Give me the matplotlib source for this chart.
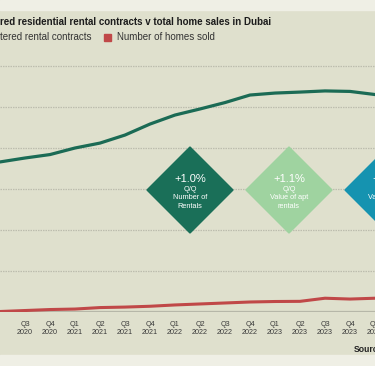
import matplotlib
matplotlib.use('Agg')
import matplotlib.pyplot as plt
from matplotlib.patches import Polygon, Rectangle

plt.rcParams['font.family'] = ['Liberation Sans', 'DejaVu Sans']

# quarters shown (first one sits just off the left edge of the crop, unlabelled)
quarters = ['', 'Q3\n2020', 'Q4\n2020', 'Q1\n2021', 'Q2\n2021', 'Q3\n2021',
            'Q4\n2021', 'Q1\n2022', 'Q2\n2022', 'Q3\n2022', 'Q4\n2022', 'Q1\n2023',
            'Q2\n2023', 'Q3\n2023', 'Q4\n2023', 'Q1\n2024']
rental_contracts = [91500, 93900, 96000, 100000, 103000, 107900, 114600, 120100,
                    123800, 127700, 132300, 133500, 134100, 134800, 134500, 132600]
homes_sold = [300, 900, 1500, 1800, 2700, 3000, 3500, 4300,
              4900, 5500, 6100, 6400, 6500, 8400, 7900, 8400]
grid_values = [25000, 50000, 75000, 100000, 125000, 150000]

# callout diamonds: headline, sub label lines
callouts = [
    ('+1.0%', ['Q/Q', 'Number of', 'Rentals']),
    ('+1.1%', ['Q/Q', 'Value of apt', 'rentals']),
    ('+0.8%', ['Q/Q', 'Value of villa', 'rentals']),
]
callout_colors = ['#1a6f58', '#9fd3a0', '#1593b0']

green = '#1b6b55'
red = '#c04848'
panel = '#dfe0cd'
band = '#efefe5'

W, H = 375, 366
fig = plt.figure(figsize=(W / 100, H / 100), dpi=100)
fig.patch.set_facecolor(panel)
fig.patches.append(Rectangle((0, (H - 10) / H), 1, 10 / H, transform=fig.transFigure,
                             color=band, zorder=0))
fig.patches.append(Rectangle((0, 0), 1, 11 / H, transform=fig.transFigure,
                             color=band, zorder=0))

# main chart
ymax = 155000
ax = fig.add_axes([0, (H - 312) / H, 1, (ymax / 25000 * 41) / H])
ax.set_facecolor('none')
x = list(range(len(quarters)))
ax.plot(x, rental_contracts, color=green, lw=2.3, solid_capstyle='round', zorder=3)
ax.plot(x, homes_sold, color=red, lw=2.2, solid_capstyle='round', zorder=3)
for g in grid_values:
    ax.axhline(g, color='#bdbdae', lw=0.9, ls=(0, (1.2, 0.8)), zorder=1)
ax.axhline(0, color='#b6b7a8', lw=1.6, zorder=2)
ax.set_xlim(10.8 / 26.1, (W + 10.8) / 26.1)
ax.set_ylim(0, ymax)
ax.set_yticks([])
ax.set_xticks(x)
ax.set_xticklabels(quarters, fontsize=5.2, color='#3a3a3a', linespacing=1.25)
ax.tick_params(axis='x', length=0, pad=6.2)
for s in ax.spines.values():
    s.set_visible(False)

# overlay in pixel units for titles and callouts
ov = fig.add_axes([0, 0, 1, 1])
ov.set_xlim(0, W)
ov.set_ylim(H, 0)
ov.axis('off')

ov.text(0, 22, 'red residential rental contracts v total home sales in Dubai',
        fontsize=7.05, fontweight='bold', color='#1c1c1c', va='center', ha='left')
ov.text(0, 37.5, 'tered rental contracts', fontsize=7.0, color='#333333',
        va='center', ha='left')
ov.add_patch(Rectangle((104, 34), 7, 7, color=red))
ov.text(117, 37.5, 'Number of homes sold', fontsize=7.0, color='#333333',
        va='center', ha='left')
ov.text(354, 350, 'Source:', fontsize=6.2, fontweight='bold', color='#222222',
        va='center', ha='left')

cx0, step, cy, r = 190, 99, 190, 43
for i, ((head, lines), col) in enumerate(zip(callouts, callout_colors)):
    cx = cx0 + i * step
    ov.add_patch(Polygon([(cx - r, cy), (cx, cy - r), (cx + r, cy), (cx, cy + r)],
                         closed=True, color=col, zorder=5))
    ov.text(cx, 179, head, fontsize=8, color='white', ha='center', va='center', zorder=6)
    for j, ln in enumerate(lines):
        ov.text(cx, 189.5 + j * 8.3, ln, fontsize=5.3, color='white',
                ha='center', va='center', zorder=6)

fig.savefig('out.png', dpi=100, facecolor=fig.get_facecolor())
